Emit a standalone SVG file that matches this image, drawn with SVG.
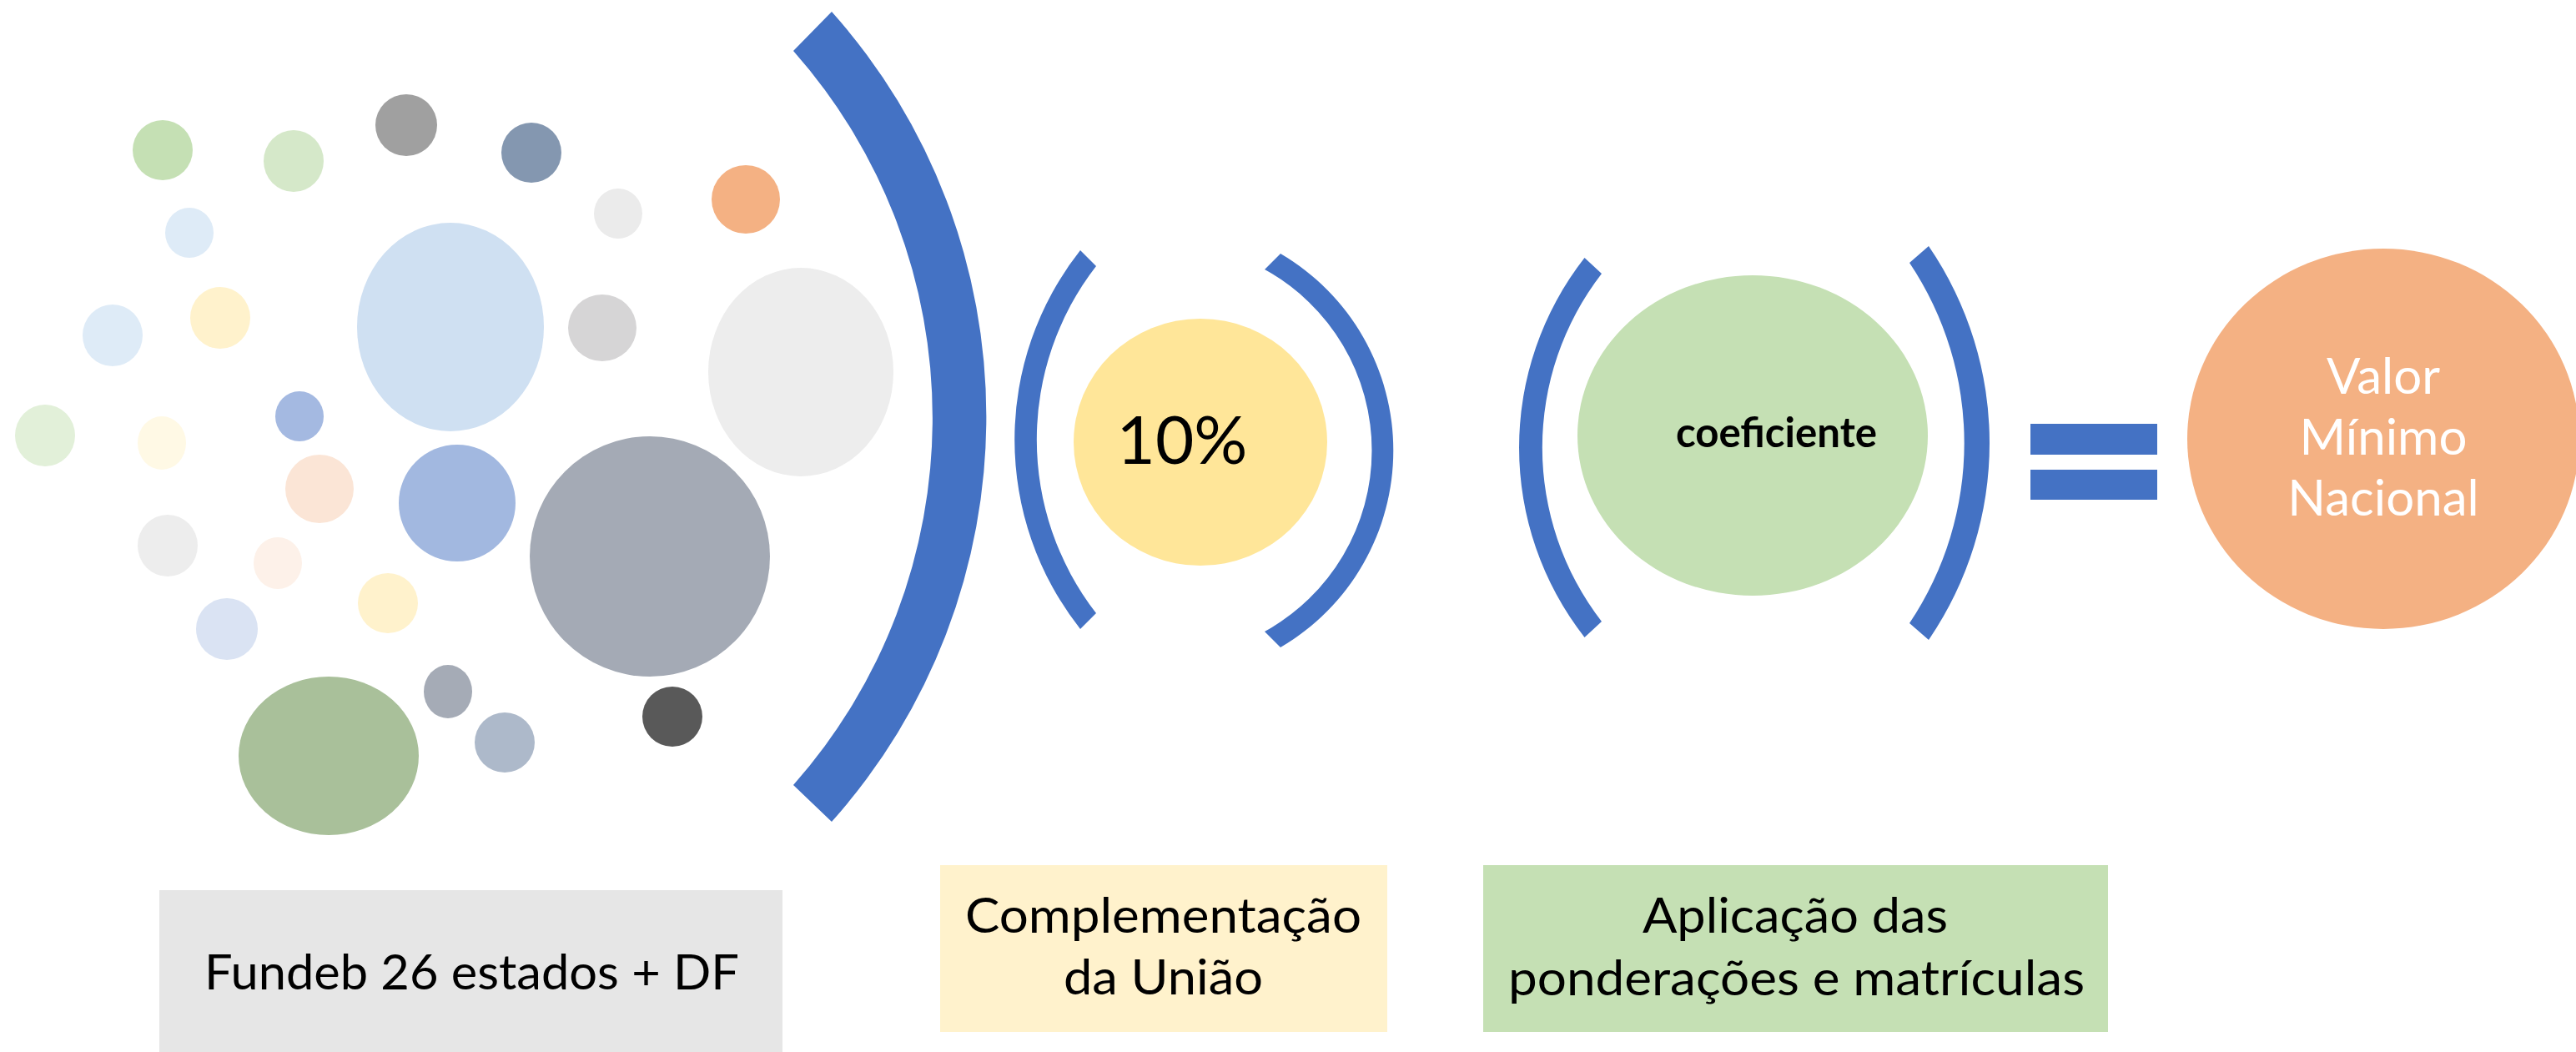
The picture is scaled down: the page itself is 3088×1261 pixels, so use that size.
<svg xmlns="http://www.w3.org/2000/svg" width="3088" height="1261" viewBox="0 0 3088 1261">
<style>
.bk{fill:#4472c4}
.lbl{font-family:Lato,"Liberation Sans",sans-serif;font-size:59px;fill:#000;text-anchor:middle}
.wt{font-family:Lato,"Liberation Sans",sans-serif;font-size:60px;fill:#fff;text-anchor:middle}
</style>
<rect width="3088" height="1261" fill="#fff"/>
<g id="circles">
<ellipse cx="195" cy="180" rx="36" ry="36" fill="#c5e0b4"/>
<ellipse cx="352" cy="193" rx="36" ry="37" fill="#d5e8c9"/>
<ellipse cx="487" cy="150" rx="37" ry="37" fill="#a0a0a0"/>
<ellipse cx="637" cy="183" rx="36" ry="36" fill="#8497b0"/>
<ellipse cx="741" cy="256" rx="29" ry="30" fill="#ebebeb"/>
<ellipse cx="894" cy="239" rx="41" ry="41" fill="#f4b183"/>
<ellipse cx="227" cy="279" rx="29" ry="30" fill="#deebf7"/>
<ellipse cx="540" cy="392" rx="112" ry="125" fill="#cfe0f2"/>
<ellipse cx="722" cy="393" rx="41" ry="40" fill="#d6d5d6"/>
<ellipse cx="960" cy="446" rx="111" ry="125" fill="#ededed"/>
<ellipse cx="135" cy="402" rx="36" ry="37" fill="#deebf7"/>
<ellipse cx="264" cy="381" rx="36" ry="37" fill="#fff2cc"/>
<ellipse cx="54" cy="522" rx="36" ry="37" fill="#e2f0d9"/>
<ellipse cx="194" cy="531" rx="29" ry="32" fill="#fff9e5"/>
<ellipse cx="359" cy="499" rx="29" ry="30" fill="#a4b9e1"/>
<ellipse cx="383" cy="586" rx="41" ry="41" fill="#fbe5d6"/>
<ellipse cx="548" cy="603" rx="70" ry="70" fill="#a2b8e0"/>
<ellipse cx="779" cy="667" rx="144" ry="144" fill="#a4aab5"/>
<ellipse cx="201" cy="654" rx="36" ry="37" fill="#ededed"/>
<ellipse cx="333" cy="675" rx="29" ry="31" fill="#fdf1e9"/>
<ellipse cx="465" cy="723" rx="36" ry="36" fill="#fff2cc"/>
<ellipse cx="272" cy="754" rx="37" ry="37" fill="#dae3f3"/>
<ellipse cx="394" cy="906" rx="108" ry="95" fill="#a9c09a"/>
<ellipse cx="537" cy="829" rx="29" ry="32" fill="#a5abb6"/>
<ellipse cx="605" cy="890" rx="36" ry="36" fill="#adb9ca"/>
<ellipse cx="806" cy="859" rx="36" ry="36" fill="#595959"/>
</g>
<g id="brackets">
<path class="bk" d="M997,14 A728.5,728.5 0 0 1 997,985 L951,941 A663.5,663.5 0 0 0 951,61 Z"/>
<path class="bk" d="M1295,300 A366.5,366.5 0 0 0 1295,754 L1314,735 A339.5,339.5 0 0 1 1314,319 Z"/>
<path class="bk" d="M1535,304 A273.5,273.5 0 0 1 1535,776 L1516,757 A247.5,247.5 0 0 0 1516,323 Z"/>
<path class="bk" d="M1899.5,309 A369,369 0 0 0 1899.5,764 L1920,745 A341,341 0 0 1 1920,328 Z"/>
<path class="bk" d="M2312,295 A418,418 0 0 1 2312,767 L2289,747 A388,388 0 0 0 2289,315 Z"/>
</g>
<g id="node-10pct">
<ellipse cx="1439" cy="530" rx="152" ry="148" fill="#ffe699"/>
<text x="1417" y="556" font-family="Lato,'Liberation Sans',sans-serif" font-size="80" text-anchor="middle" fill="#000">10%</text>
</g>
<g id="node-coeficiente">
<ellipse cx="2101" cy="522" rx="210" ry="192" fill="#c5e0b4"/>
<text x="2129.5" y="536" font-family="Lato,'Liberation Sans',sans-serif" font-size="50" font-weight="bold" text-anchor="middle" fill="#000" textLength="241" lengthAdjust="spacingAndGlyphs">coeficiente</text>
</g>
<g id="equals">
<rect class="bk" x="2434" y="508" width="152" height="37"/>
<rect class="bk" x="2434" y="563" width="152" height="36"/>
</g>
<g id="node-valor">
<ellipse cx="2857" cy="526" rx="235" ry="228" fill="#f4b183"/>
<text class="wt" x="2857" y="472">Valor</text>
<text class="wt" x="2857" y="545">Mínimo</text>
<text class="wt" x="2857" y="618">Nacional</text>
</g>
<g id="label-fundeb">
<rect x="191" y="1067" width="747" height="194" fill="#e6e6e6"/>
<text class="lbl" x="565.5" y="1186" textLength="641" lengthAdjust="spacingAndGlyphs">Fundeb 26 estados + DF</text>
</g>
<g id="label-complementacao">
<rect x="1127" y="1037" width="536" height="200" fill="#fff2cc"/>
<text class="lbl" x="1394.5" y="1118" textLength="475" lengthAdjust="spacingAndGlyphs">Complementação</text>
<text class="lbl" x="1394.5" y="1192" textLength="239" lengthAdjust="spacingAndGlyphs">da União</text>
</g>
<g id="label-aplicacao">
<rect x="1778" y="1037" width="749" height="200" fill="#c5e0b4"/>
<text class="lbl" x="2152" y="1118" textLength="366" lengthAdjust="spacingAndGlyphs">Aplicação das</text>
<text class="lbl" x="2153.5" y="1193" textLength="691" lengthAdjust="spacingAndGlyphs">ponderações e matrículas</text>
</g>
</svg>
